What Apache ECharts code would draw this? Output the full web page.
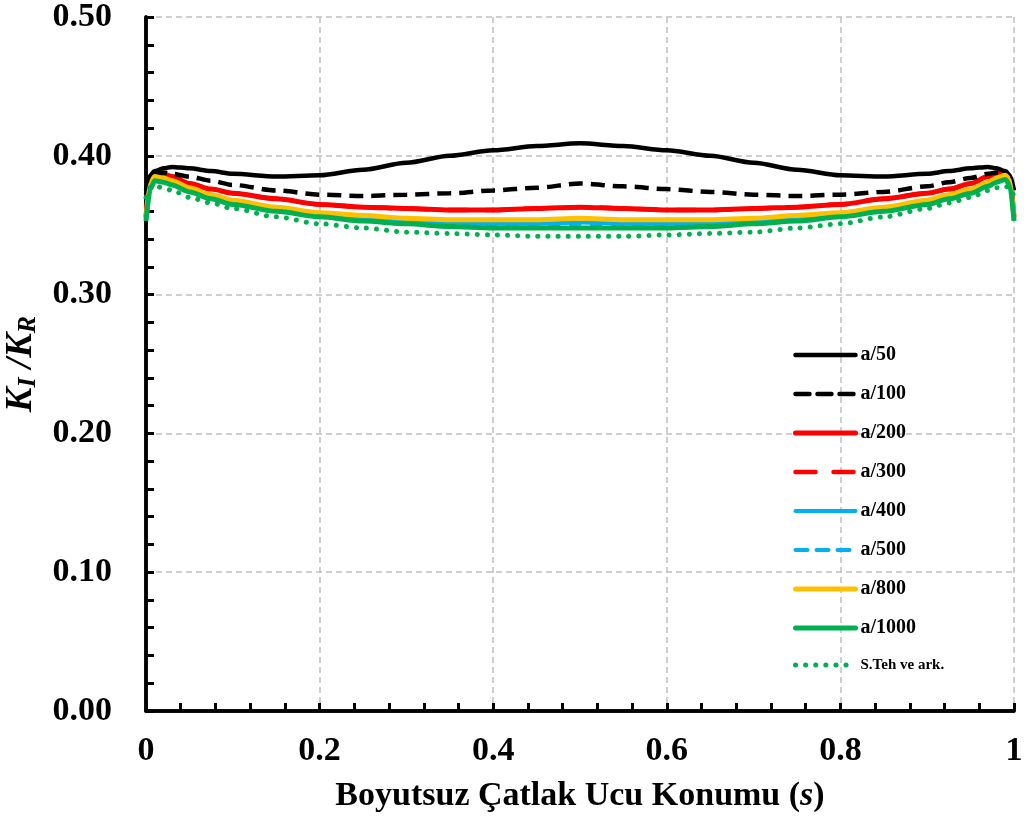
<!DOCTYPE html>
<html>
<head>
<meta charset="utf-8">
<script src="https://cdn.jsdelivr.net/npm/echarts@6/dist/echarts.min.js"></script>
<style>
  html, body { margin: 0; padding: 0; background: #fff; }
  #chart { width: 1028px; height: 826px; }
</style>
</head>
<body>
<div id="chart"></div>
<script>
// konumlar (s) ve seriler
const sPos = [0, 0.005, 0.01, 0.02, 0.03, 0.05, 0.075, 0.1, 0.15, 0.2, 0.25, 0.3, 0.35, 0.4, 0.45, 0.5,
  0.55, 0.6, 0.65, 0.7, 0.75, 0.8, 0.85, 0.9, 0.925, 0.95, 0.97, 0.98, 0.99, 0.995, 1];

const a50 = [0.375, 0.386, 0.389, 0.391, 0.392, 0.391, 0.389, 0.387, 0.385, 0.386, 0.390, 0.395, 0.400, 0.404, 0.407, 0.409,
  0.407, 0.404, 0.400, 0.395, 0.390, 0.386, 0.385, 0.387, 0.389, 0.391, 0.392, 0.391, 0.389, 0.386, 0.375];
const a100 = [0.372, 0.384, 0.387, 0.388, 0.387, 0.385, 0.382, 0.379, 0.375, 0.372, 0.371, 0.372, 0.373, 0.375, 0.377, 0.380,
  0.378, 0.376, 0.374, 0.372, 0.371, 0.372, 0.374, 0.378, 0.381, 0.384, 0.387, 0.388, 0.387, 0.384, 0.372];
const a200 = [0.356, 0.383, 0.387, 0.387, 0.385, 0.380, 0.376, 0.373, 0.369, 0.365, 0.363, 0.362, 0.361, 0.361, 0.362, 0.363,
  0.362, 0.361, 0.361, 0.362, 0.363, 0.365, 0.369, 0.373, 0.376, 0.380, 0.385, 0.387, 0.388, 0.385, 0.356];
const a300 = [0.356, 0.383, 0.387, 0.387, 0.385, 0.380, 0.376, 0.373, 0.369, 0.365, 0.363, 0.362, 0.361, 0.361, 0.362, 0.363,
  0.362, 0.361, 0.361, 0.362, 0.363, 0.365, 0.369, 0.373, 0.376, 0.380, 0.385, 0.387, 0.388, 0.385, 0.356];
const a400 = [0.354, 0.378, 0.383, 0.382, 0.380, 0.375, 0.370, 0.366, 0.361, 0.357, 0.355, 0.353, 0.352, 0.351, 0.351, 0.352,
  0.351, 0.351, 0.352, 0.353, 0.355, 0.357, 0.361, 0.366, 0.370, 0.374, 0.379, 0.382, 0.384, 0.381, 0.354];
const a500 = [0.354, 0.378, 0.383, 0.382, 0.380, 0.375, 0.370, 0.366, 0.361, 0.357, 0.354, 0.352, 0.351, 0.350, 0.350, 0.351,
  0.350, 0.350, 0.351, 0.352, 0.354, 0.357, 0.361, 0.366, 0.370, 0.374, 0.379, 0.382, 0.384, 0.381, 0.354];
const a800 = [0.355, 0.380, 0.385, 0.384, 0.382, 0.377, 0.372, 0.368, 0.363, 0.359, 0.357, 0.355, 0.354, 0.354, 0.354, 0.355,
  0.354, 0.354, 0.354, 0.355, 0.357, 0.359, 0.363, 0.368, 0.372, 0.376, 0.381, 0.384, 0.386, 0.383, 0.355];
const a1000 = [0.353, 0.376, 0.382, 0.381, 0.379, 0.374, 0.369, 0.365, 0.360, 0.356, 0.353, 0.351, 0.349, 0.348, 0.348, 0.348,
  0.348, 0.348, 0.349, 0.351, 0.353, 0.356, 0.360, 0.365, 0.369, 0.373, 0.378, 0.381, 0.383, 0.379, 0.353];
const sTeh = [0.370, 0.377, 0.378, 0.377, 0.375, 0.370, 0.366, 0.362, 0.356, 0.351, 0.348, 0.345, 0.344, 0.343, 0.342, 0.342,
  0.342, 0.343, 0.344, 0.345, 0.348, 0.351, 0.356, 0.362, 0.366, 0.370, 0.375, 0.377, 0.378, 0.377, 0.370];

const seriesNames = ['a/50', 'a/100', 'a/200', 'a/300', 'a/400', 'a/500', 'a/800', 'a/1000', 'S.Teh ve ark.'];
const seriesValues = [a50, a100, a200, a300, a400, a500, a800, a1000, sTeh];

// çizgi stilleri
const lineStyles = [
  { color: '#000000', width: 4.5, type: 'solid' },
  { color: '#000000', width: 4.5, type: [14, 8] },
  { color: '#ff0000', width: 5, type: 'solid' },
  { color: '#ff0000', width: 4.5, type: [20, 18] },
  { color: '#00b0f0', width: 4, type: 'solid' },
  { color: '#00b0f0', width: 4, type: [12, 9] },
  { color: '#ffc000', width: 5, type: 'solid' },
  { color: '#00b050', width: 5, type: 'solid' },
  { color: '#00b050', width: 5, type: [0.1, 10], cap: 'round' }
];
// çizim sırası: a/300 kırmızı düz çizginin altında kalsın
const zOrder = [9, 8, 7, 6, 5, 5, 10, 11, 12];

const FONT = "'Liberation Serif', 'Times New Roman', serif";

const chart = echarts.init(document.getElementById('chart'), null, { renderer: 'canvas' });

const series = seriesNames.map((name, i) => ({
  name: name,
  type: 'line',
  data: sPos.map((s, j) => [s, seriesValues[i][j]]),
  showSymbol: false,
  symbol: 'none',
  smooth: 0.3,
  smoothMonotone: 'x',
  lineStyle: lineStyles[i],
  itemStyle: { color: lineStyles[i].color },
  z: zOrder[i]
}));

const frameAxis = {
  axisLine: { show: true, lineStyle: { color: '#000', width: 3.5 } },
  axisTick: { show: false },
  axisLabel: { show: false },
  splitLine: { show: false }
};

chart.setOption({
  animation: false,
  backgroundColor: '#ffffff',
  grid: { left: 146, right: 14, top: 17, bottom: 115, outerBoundsMode: 'none' },
  legend: {
    orient: 'vertical',
    left: 788, top: 340,
    itemWidth: 60, itemHeight: 20, itemGap: 19,
    itemStyle: { opacity: 0 },
    data: seriesNames.map((name, i) => ({
      name: name,
      lineStyle: { width: lineStyles[i].width, type: lineStyles[i].type, cap: 'round' }
    })),
    formatter: name => name.startsWith('S.') ? '{s|' + name + '}' : '{a|' + name + '}',
    textStyle: {
      color: '#000',
      rich: {
        a: { fontFamily: FONT, fontWeight: 'bold', fontSize: 20, lineHeight: 20 },
        s: { fontFamily: FONT, fontWeight: 'bold', fontSize: 15, lineHeight: 20 }
      }
    }
  },
  xAxis: [{
    type: 'value', min: 0, max: 1, interval: 0.2,
    name: 'Boyutsuz Çatlak Ucu Konumu ({i|s})',
    nameLocation: 'middle', nameGap: 68,
    nameTextStyle: {
      color: '#000', fontFamily: FONT, fontWeight: 'bold', fontSize: 34,
      rich: { i: { fontFamily: FONT, fontWeight: 'bold', fontStyle: 'italic', fontSize: 34 } }
    },
    axisLine: { lineStyle: { color: '#000', width: 3.5 } },
    axisTick: { inside: true, length: 8, lineStyle: { color: '#000', width: 3 } },
    minorTick: { show: true, splitNumber: 5, length: 8, lineStyle: { color: '#000', width: 3 } },
    axisLabel: {
      color: '#000', fontFamily: FONT, fontWeight: 'bold', fontSize: 34, margin: 23,
      formatter: v => String(Math.round(v * 10) / 10)
    },
    splitLine: { show: true, lineStyle: { color: '#c0c0c0', width: 1.5, type: [6, 4] } }
  }, Object.assign({ type: 'value', min: 0, max: 1, position: 'top' }, frameAxis)],
  yAxis: [{
    type: 'value', min: 0, max: 0.5, interval: 0.1,
    name: '{k|K}{sub|I}{k| /K}{sub|R}',
    nameLocation: 'middle', nameRotate: 90, nameGap: 89,
    nameTextStyle: {
      color: '#000',
      rich: {
        k: { fontFamily: FONT, fontWeight: 'bold', fontStyle: 'italic', fontSize: 37 },
        sub: { fontFamily: FONT, fontWeight: 'bold', fontStyle: 'italic', fontSize: 26, padding: [14, 0, 0, 0] }
      }
    },
    axisLine: { lineStyle: { color: '#000', width: 3.5 } },
    axisTick: { inside: true, length: 8, lineStyle: { color: '#000', width: 3 } },
    minorTick: { show: true, splitNumber: 5, length: 8, lineStyle: { color: '#000', width: 3 } },
    axisLabel: {
      color: '#000', fontFamily: FONT, fontWeight: 'bold', fontSize: 34, margin: 34,
      formatter: v => v.toFixed(2)
    },
    splitLine: { show: true, lineStyle: { color: '#c0c0c0', width: 1.5, type: [6, 4] } }
  }, Object.assign({ type: 'value', min: 0, max: 0.5, position: 'right' }, frameAxis)],
  series: series
});
</script>
</body>
</html>
